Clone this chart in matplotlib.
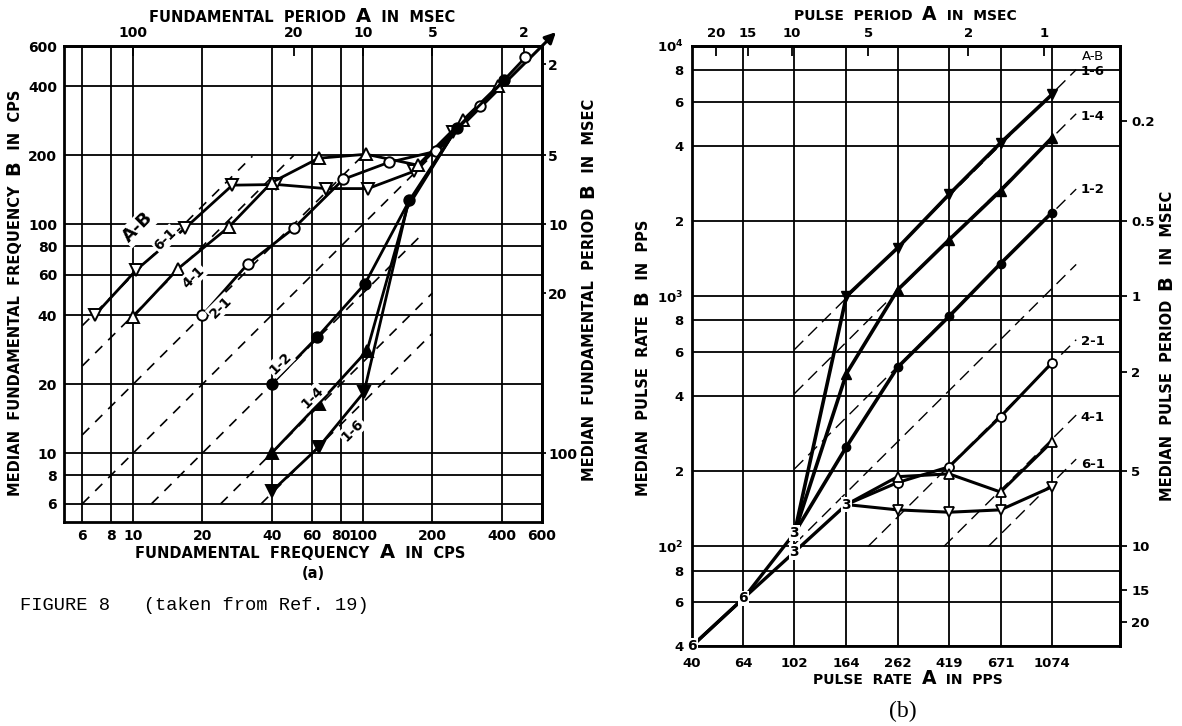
#!/usr/bin/env python3
"""
Figure 8: median frequency / pulse rate B against A for several A-B ratios.
"""
import matplotlib
matplotlib.use('Agg')
import matplotlib.pyplot as plt
from matplotlib.ticker import NullLocator

plt.rcParams['font.family'] = ['DejaVu Sans']
plt.rcParams['font.weight'] = 'bold'
plt.rcParams['axes.linewidth'] = 2.0

# ---------------- panel (a): fundamental frequency (cps) ----------------
a_ticks = [6, 8, 10, 20, 40, 60, 80, 100, 200, 400, 600]
a_top_at = [10, 50, 100, 200, 500]
a_top_lab = ['100', '20', '10', '5', '2']
a_right_at = [500, 200, 100, 50, 10]
a_right_lab = ['2', '5', '10', '20', '100']

a61_A = [6.8, 10.3, 16.8, 27, 42, 69, 105, 166, 245]
a61_B = [40, 63, 96, 148, 149, 143, 143, 170, 252]
a41_A = [10, 15.7, 26, 40, 64, 103, 173, 271, 385]
a41_B = [39.5, 64, 97, 152, 194, 202, 181, 284, 400]
a21_A = [20, 31.5, 50, 82, 129, 207, 321, 508]
a21_B = [40, 67, 96, 157, 186, 208, 328, 535]
a12_A = [40, 63, 102, 159, 255, 412]
a12_B = [20, 32, 55, 127, 262, 425]
a14_A = [40, 64, 104, 157, 255]
a14_B = [10, 16.4, 28, 122, 262]
a16_A = [40, 64, 101, 155, 255]
a16_B = [6.8, 10.6, 18.5, 117, 262]

a_ratio = [6, 4, 2, 1, 1 / 2, 1 / 4, 1 / 6]
a_ratio_A0 = [6, 6, 6, 6, 12, 24, 36]
a_ratio_A1 = [33, 50, 100, 200, 180, 200, 200]
a_diag = [200, 690]

a_lab_txt = ['A-B', '6-1', '4-1', '2-1', '1-2', '1-4', '1-6']
a_lab_A = [10.5, 13.8, 18.2, 24.0, 43.7, 60.0, 89.9]
a_lab_B = [97, 86, 58.7, 43.4, 24.7, 17.6, 12.6]

# ---------------- panel (b): pulse rate (pps) ----------------
b_ticks = [40, 64, 102, 164, 262, 419, 671, 1074]
b_yticks = [40, 60, 80, 100, 200, 400, 600, 800, 1000, 2000, 4000, 6000, 8000, 10000]
b_ylab = ['4', '6', '8', r'$\mathbf{10^2}$', '2', '4', '6', '8', r'$\mathbf{10^3}$',
          '2', '4', '6', '8', r'$\mathbf{10^4}$']
b_top_at = [50, 1000 / 15, 100, 200, 500, 1000]
b_top_lab = ['20', '15', '10', '5', '2', '1']
b_right_at = [5000, 2000, 1000, 500, 200, 100, 1000 / 15, 50]
b_right_lab = ['0.2', '0.5', '1', '2', '5', '10', '15', '20']

b_low_A = [40, 64, 102]
b_low_hi = [40, 62, 113]
b_low_lo = [40, 62, 95]
b_rate = [164, 262, 419, 671, 1074]
b16 = [1000, 1560, 2550, 4100, 6400]
b14 = [490, 1060, 1680, 2640, 4300]
b12 = [250, 520, 830, 1350, 2160]
b21 = [147, 180, 208, 330, 542]
b41 = [147, 190, 195, 165, 262]
b61 = [147, 140, 137, 140, 173]
b_count_A = [40, 64, 102, 102, 164]
b_count_B = [40, 62, 113, 95, 147]
b_count_txt = ['6', '6', '3', '3', '3']

b_ratio = [6, 4, 2, 1, 1 / 2, 1 / 4, 1 / 6]
b_ratio_A0 = [102, 102, 102, 102, 200, 400, 600]
b_ratio_A1 = 1340
b_lab_txt = ['A-B', '1-6', '1-4', '1-2', '2-1', '4-1', '6-1']
b_lab_B = [9080, 7900, 5220, 2670, 658, 327, 212]
b_lab_A = 1560

W, H = 1182, 726
fig = plt.figure(figsize=(W / 100, H / 100), dpi=100)
renderer = fig.canvas.get_renderer()


def box(l, t, r, b):
    return [l / W, 1 - b / H, (r - l) / W, (b - t) / H]


def setup_log(ax, xlim, ylim):
    ax.set_xscale('log'); ax.set_yscale('log')
    ax.set_xlim(*xlim); ax.set_ylim(*ylim)
    ax.grid(True, color='black', linewidth=1.3)
    ax.set_axisbelow(True)


def secondary(ax, top_at, top_lab, right_at, right_lab, fs, rlen, rpad):
    top = ax.secondary_xaxis('top')
    top.set_xticks(top_at, top_lab)
    top.xaxis.set_minor_locator(NullLocator())
    top.tick_params(direction='in', length=7, width=1.3, pad=4, labelsize=fs)
    right = ax.secondary_yaxis('right')
    right.set_yticks(right_at, right_lab)
    right.yaxis.set_minor_locator(NullLocator())
    right.tick_params(direction='out', length=rlen, width=1.3, pad=rpad, labelsize=fs)
    for s in (top, right):
        for sp in s.spines.values():
            sp.set_linewidth(2.0)


def text_width(txt, fs):
    t1 = fig.text(0, 0, '|' + txt + '|', fontsize=fs)
    t2 = fig.text(0, 0, '||', fontsize=fs)
    w = t1.get_window_extent(renderer).width - t2.get_window_extent(renderer).width
    t1.remove(); t2.remove()
    return w


def mixed_label(cx, cy, parts, rotation=0):
    # cx, cy: label centre in pixels from the top-left; parts: (text, size)
    widths = [text_width(t, fs) for t, fs in parts]
    pos = -sum(widths) / 2
    for (t, fs), w in zip(parts, widths):
        if rotation == 0:
            px, py = cx + pos, H - cy - 4.5
        else:
            px, py = cx + 4.5, H - cy + pos
        fig.text(px / W, py / H, t, fontsize=fs, rotation=rotation,
                 rotation_mode='anchor', ha='left', va='baseline')
        pos += w


# ---- panel (a) ----
axa = fig.add_axes(box(64, 46, 542, 522))
setup_log(axa, (5, 600), (5, 600))
axa.set_xticks(a_ticks, [str(t) for t in a_ticks])
axa.set_yticks(a_ticks, [str(t) for t in a_ticks])
axa.xaxis.set_minor_locator(NullLocator())
axa.yaxis.set_minor_locator(NullLocator())
axa.tick_params(length=0, pad=5, labelsize=10)
secondary(axa, a_top_at, a_top_lab, a_right_at, a_right_lab, 10, 3, 1.5)

for k, a0, a1 in zip(a_ratio, a_ratio_A0, a_ratio_A1):
    axa.plot([a0, a1], [k * a0, k * a1], color='black', lw=1.2,
             dashes=(6, 5), zorder=2)

axa.annotate('', xy=(a_diag[1], a_diag[1]), xytext=(a_diag[0], a_diag[0]),
             xycoords='data', annotation_clip=False,
             arrowprops=dict(arrowstyle='-|>', color='black', lw=2.2,
                             mutation_scale=16, shrinkA=0, shrinkB=0),
             zorder=3)

ms_a = 8.5
for A, B, m, fill, every in [(a61_A, a61_B, 'v', False, None),
                             (a41_A, a41_B, '^', False, None),
                             (a21_A, a21_B, 'o', False, None),
                             (a12_A, a12_B, 'o', True, None),
                             (a14_A, a14_B, '^', True, [0, 1, 2]),
                             (a16_A, a16_B, 'v', True, [0, 1, 2])]:
    axa.plot(A, B, color='black', lw=2.0, marker=m,
             markersize=ms_a if m != 'o' else 7.5, markevery=every,
             mfc='black' if fill else 'white', mec='black', mew=1.4,
             zorder=4, clip_on=False)

for i, (t, x, y) in enumerate(zip(a_lab_txt, a_lab_A, a_lab_B)):
    axa.text(x, y, t, rotation=45, ha='center', va='center',
             fontsize=13 if i == 0 else 10, rotation_mode='anchor',
             bbox=dict(boxstyle='square,pad=0.1', fc='white', ec='none'),
             zorder=5)

mixed_label(302, 18, [('FUNDAMENTAL  PERIOD  ', 10.5), ('A', 14), ('  IN  MSEC', 10.5)])
mixed_label(300, 553, [('FUNDAMENTAL  FREQUENCY  ', 10.5), ('A', 14), ('  IN  CPS', 10.5)])
fig.text(313 / W, 1 - 574 / H, '(a)', ha='center', va='center', fontsize=10.5)
mixed_label(15, 293, [('MEDIAN  FUNDAMENTAL  FREQUENCY  ', 10.5), ('B', 14),
                      ('  IN  CPS', 10.5)], rotation=90)
mixed_label(589, 290, [('MEDIAN  FUNDAMENTAL  PERIOD  ', 10.5), ('B', 14),
                       ('  IN  MSEC', 10.5)], rotation=90)
fig.text(20 / W, 1 - 605 / H, 'FIGURE 8   (taken from Ref. 19)',
         ha='left', va='center', fontsize=13.5, fontweight='normal',
         family=['Liberation Mono', 'DejaVu Sans Mono'])

# ---- panel (b) ----
axb = fig.add_axes(box(692, 46, 1120, 646))
setup_log(axb, (40, 2000), (40, 10000))
axb.set_xticks(b_ticks, [str(t) for t in b_ticks])
axb.set_yticks(b_yticks, b_ylab)
axb.xaxis.set_minor_locator(NullLocator())
axb.yaxis.set_minor_locator(NullLocator())
axb.tick_params(length=0, labelsize=9.5)
axb.tick_params(axis='x', pad=8)
axb.tick_params(axis='y', pad=6)
secondary(axb, b_top_at, b_top_lab, b_right_at, b_right_lab, 9.5, 5, 3)

for k, a0 in zip(b_ratio, b_ratio_A0):
    axb.plot([a0, b_ratio_A1], [k * a0, k * b_ratio_A1], color='black',
             lw=1.0, dashes=(9, 5), zorder=2)

# shared low-rate path
axb.plot(b_low_A, b_low_hi, color='black', lw=2.4, zorder=3)
axb.plot(b_low_A + [b_rate[0]], b_low_lo + [b21[0]], color='black', lw=2.4, zorder=3)

for Bv, m in [(b16, 'v'), (b14, '^'), (b12, 'o')]:
    axb.plot([b_low_A[-1]] + b_rate, [b_low_hi[-1]] + Bv, color='black',
             lw=2.6, marker=m, markersize=7 if m != 'o' else 6,
             mfc='black', mec='black', markevery=list(range(1, 6)), zorder=4)
for Bv, m in [(b21, 'o'), (b41, '^'), (b61, 'v')]:
    axb.plot(b_rate, Bv, color='black', lw=2.2, marker=m,
             markersize=7.5 if m != 'o' else 6.5, mfc='white', mec='black',
             mew=1.3, markevery=list(range(1, 5)), zorder=4)

for x, y, t in zip(b_count_A, b_count_B, b_count_txt):
    axb.text(x, y, t, ha='center', va='center', fontsize=10, zorder=6,
             bbox=dict(boxstyle='square,pad=0.05', fc='white', ec='none'),
             clip_on=False)

for t, y in zip(b_lab_txt, b_lab_B):
    axb.text(b_lab_A, y, t, ha='center', va='center', fontsize=9.5, zorder=6,
             fontweight='normal' if t == 'A-B' else 'bold')

mixed_label(905, 15, [('PULSE  PERIOD  ', 10), ('A', 13.5), ('  IN  MSEC', 10)])
mixed_label(908, 679, [('PULSE  RATE  ', 10), ('A', 13.5), ('  IN  PPS', 10)])
fig.text(903 / W, 1 - 711 / H, '(b)', ha='center', va='center', fontsize=17,
         fontweight='normal', family=['Liberation Serif', 'DejaVu Serif'])
mixed_label(643, 358, [('MEDIAN  PULSE  RATE  ', 10.5), ('B', 14),
                       ('  IN  PPS', 10.5)], rotation=90)
mixed_label(1167, 346, [('MEDIAN  PULSE  PERIOD  ', 10.5), ('B', 14),
                        ('  IN  MSEC', 10.5)], rotation=90)

fig.savefig('out.png', dpi=100)
